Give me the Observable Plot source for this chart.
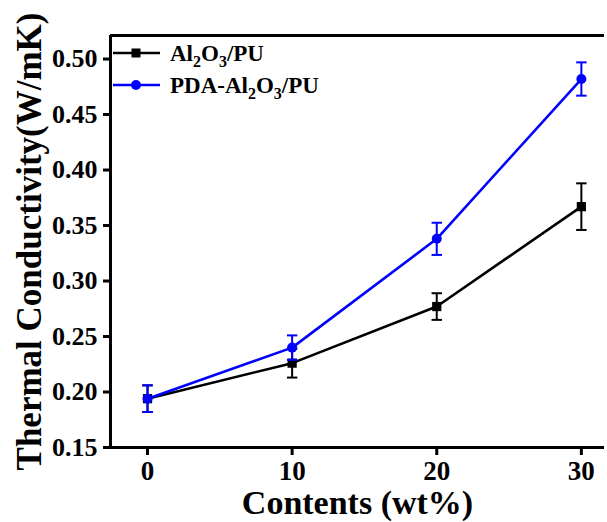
<!DOCTYPE html>
<html>
<head>
<meta charset="utf-8">
<script src="https://cdn.jsdelivr.net/npm/d3@7"></script>
<script src="https://cdn.jsdelivr.net/npm/@observablehq/plot@0.6"></script>
<style>
  html, body { margin: 0; padding: 0; background: #fff; }
  #chart { width: 607px; height: 522px; overflow: hidden; }
</style>
</head>
<body>
<div id="chart"></div>
<script>
// ---- data ----
const contents = [0, 10, 20, 30];
const alValues = [0.194, 0.226, 0.277, 0.367];
const alErrors = [0.012, 0.013, 0.012, 0.021];
const pdaValues = [0.194, 0.240, 0.338, 0.482];
const pdaErrors = [0.012, 0.011, 0.0145, 0.015];
const xTicks = [0, 10, 20, 30];
const yTicks = [0.15, 0.20, 0.25, 0.30, 0.35, 0.40, 0.45, 0.50];
const seriesNames = ["Al2O3/PU", "PDA-Al2O3/PU"];
const xTitle = "Contents (wt%)";
const yTitle = "Thermal Conductivity(W/mK)";

const xDomain = [-2.56, 31.6];
const yDomain = [0.15, 0.5212];
const capHalf = 0.36; // error-bar cap half-width in x units

const FONT = "'Liberation Serif','Times New Roman',Times,serif";
const BLUE = "#0000ff";

function rows(values, errors, series) {
  return contents.map((c, i) => ({x: c, y: values[i], lo: values[i] - errors[i], hi: values[i] + errors[i], series}));
}
const al = rows(alValues, alErrors, seriesNames[0]);
const pda = rows(pdaValues, pdaErrors, seriesNames[1]);

function seriesMarks(data, color, symbol) {
  return [
    Plot.line(data, {x: "x", y: "y", stroke: color, strokeWidth: 2.6}),
    Plot.link(data, {x1: "x", x2: "x", y1: "lo", y2: "hi", stroke: color, strokeWidth: 2}),
    Plot.link(data, {x1: d => d.x - capHalf, x2: d => d.x + capHalf, y1: "lo", y2: "lo", stroke: color, strokeWidth: 2}),
    Plot.link(data, {x1: d => d.x - capHalf, x2: d => d.x + capHalf, y1: "hi", y2: "hi", stroke: color, strokeWidth: 2}),
    Plot.dot(data, {x: "x", y: "y", fill: color, stroke: "none", symbol, r: symbol === "square" ? 5.2 : 5})
  ];
}

const chart = Plot.plot({
  width: 607,
  height: 522,
  marginLeft: 110,
  marginRight: 3,
  marginTop: 35,
  marginBottom: 75,
  style: {fontFamily: FONT, fontWeight: "bold", background: "white", color: "black", overflow: "visible"},
  x: {domain: xDomain},
  y: {domain: yDomain},
  marks: [
    Plot.axisX({ticks: xTicks, tickFormat: d => String(d), tickSize: 8, tickPadding: 5, fontSize: 27, strokeWidth: 3, label: null}),
    Plot.axisY({ticks: yTicks, tickFormat: d3.format(".2f"), tickSize: 7, tickPadding: 6, fontSize: 26, strokeWidth: 3, label: null}),
    Plot.text([xTitle], {frameAnchor: "bottom", dy: 56, lineAnchor: "middle", textAnchor: "middle", fontSize: 34, fontWeight: "bold", fill: "black"}),
    Plot.text([yTitle], {frameAnchor: "left", dx: -81, rotate: -90, lineAnchor: "middle", textAnchor: "middle", fontSize: 35, fontWeight: "bold", fill: "black"}),
    Plot.ruleY([yDomain[0]], {stroke: "black", strokeWidth: 3}),
    Plot.ruleY([yDomain[1]], {stroke: "black", strokeWidth: 3}),
    Plot.ruleX([xDomain[0]], {stroke: "black", strokeWidth: 3}),
    ...seriesMarks(al, "black", "square"),
    ...seriesMarks(pda, BLUE, "circle")
  ]
});

// ---- legend (inside top-left of frame) ----
const svg = d3.select(chart);
const legend = svg.append("g").attr("font-family", FONT).attr("font-weight", "bold").attr("text-anchor", "start");
const legendItems = [
  {color: "black", symbol: "square", parts: [["Al", 0], ["2", 1], ["O", 0], ["3", 1], ["/PU", 0]]},
  {color: BLUE, symbol: "circle", parts: [["PDA-Al", 0], ["2", 1], ["O", 0], ["3", 1], ["/PU", 0]]}
];
const lx0 = 113, lx1 = 160, lxm = 136, ltx = 170, ly0 = 53, lstep = 32;
legendItems.forEach((it, i) => {
  const y = ly0 + i * lstep;
  legend.append("line").attr("x1", lx0).attr("x2", lx1).attr("y1", y).attr("y2", y)
    .attr("stroke", it.color).attr("stroke-width", 2.6);
  if (it.symbol === "square") {
    legend.append("rect").attr("x", lxm - 4.5).attr("y", y - 4.5).attr("width", 9).attr("height", 9).attr("fill", it.color);
  } else {
    legend.append("circle").attr("cx", lxm).attr("cy", y).attr("r", 5).attr("fill", it.color);
  }
  const t = legend.append("text").attr("x", ltx).attr("y", y + 7.5).attr("font-size", 23).attr("fill", "black");
  let sub = 0;
  it.parts.forEach(([s, isSub]) => {
    const ts = t.append("tspan").text(s);
    if (isSub && !sub) { ts.attr("dy", 6).attr("font-size", 16); sub = 1; }
    else if (isSub) { ts.attr("font-size", 16); }
    else if (sub) { ts.attr("dy", -6); sub = 0; }
  });
});

document.getElementById("chart").appendChild(chart);
</script>
</body>
</html>
